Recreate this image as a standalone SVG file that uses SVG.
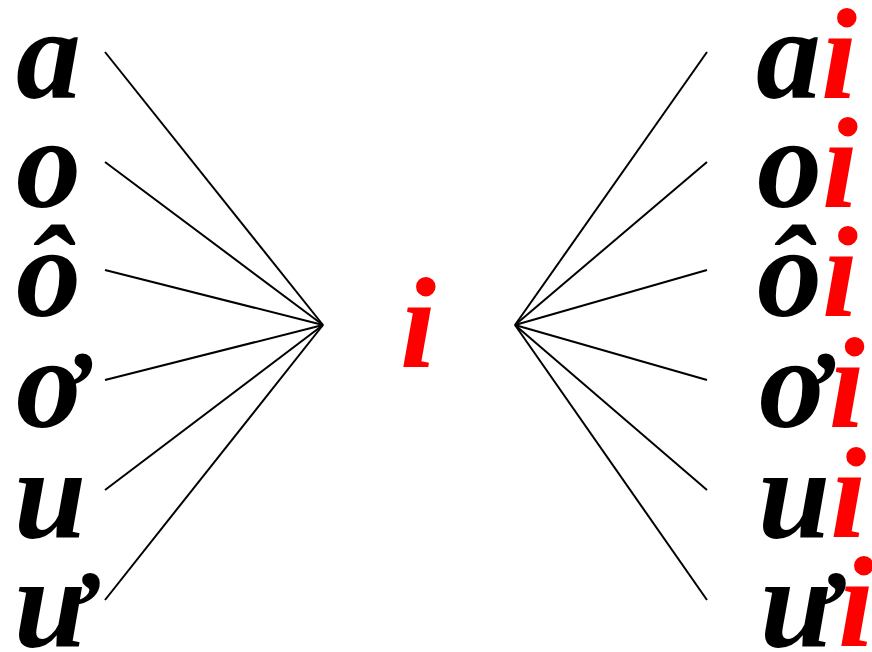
<svg xmlns="http://www.w3.org/2000/svg" width="872" height="652" viewBox="0 0 872 652">
<style>
.t{font-family:"Liberation Serif","Times New Roman",serif;font-weight:bold;font-style:italic;font-size:130px;fill:#000}
.r{fill:#ff0000}
.c line{stroke:#000;stroke-width:2}
</style>
<rect width="872" height="652" fill="#fff"/>
<g class="c" id="connectors">
<line x1="105" y1="52" x2="323" y2="325"/>
<line x1="105" y1="162" x2="323" y2="325"/>
<line x1="105" y1="270" x2="323" y2="325"/>
<line x1="105" y1="380" x2="323" y2="325"/>
<line x1="105" y1="490" x2="323" y2="325"/>
<line x1="105" y1="600" x2="323" y2="325"/>
<line x1="515" y1="325" x2="707" y2="52"/>
<line x1="515" y1="325" x2="707" y2="162"/>
<line x1="515" y1="325" x2="707" y2="270"/>
<line x1="515" y1="325" x2="707" y2="380"/>
<line x1="515" y1="325" x2="707" y2="490"/>
<line x1="515" y1="325" x2="707" y2="600"/>
</g>
<g id="left-a"><text class="t" x="16" y="98">a</text></g>
<g id="left-o"><text class="t" x="16" y="207">o</text></g>
<g id="left-o-circ"><text class="t" x="16" y="316">ô</text></g>
<g id="left-o-horn"><text class="t" x="16" y="427">ơ</text></g>
<g id="left-u"><text class="t" x="14" y="537">u</text></g>
<g id="left-u-horn"><text class="t" x="14" y="646">ư</text></g>
<g id="center-i"><text class="t r" x="400" y="367">i</text></g>
<g id="right-ai"><text class="t" x="756" y="98">a<tspan class="r">i</tspan></text></g>
<g id="right-oi"><text class="t" x="757" y="207">o<tspan class="r">i</tspan></text></g>
<g id="right-o-circ-i"><text class="t" x="757" y="316">ô<tspan class="r">i</tspan></text></g>
<g id="right-o-horn-i"><text class="t" x="759" y="427">ơ<tspan class="r">i</tspan></text></g>
<g id="right-ui"><text class="t" x="758" y="537">u<tspan class="r">i</tspan></text></g>
<g id="right-u-horn-i"><text class="t" x="760" y="646">ư<tspan class="r">i</tspan></text></g>
</svg>
